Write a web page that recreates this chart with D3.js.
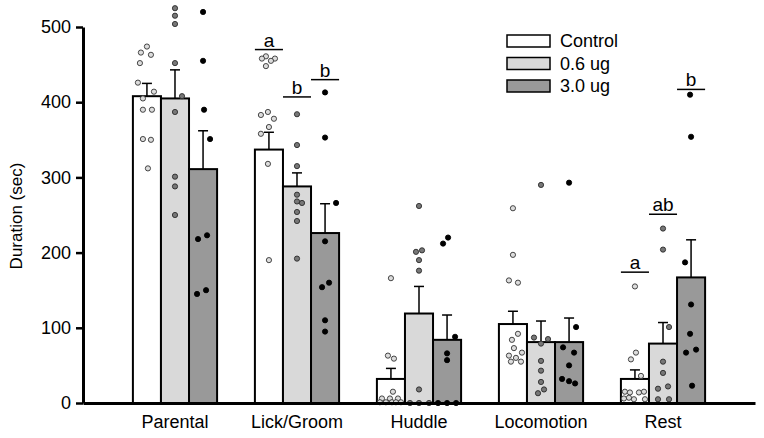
<!DOCTYPE html>
<html>
<head>
<meta charset="utf-8">
<script src="https://cdn.jsdelivr.net/npm/d3@7"></script>
<style>
  html, body { margin: 0; padding: 0; background: #fff; }
  svg { display: block; font-family: "Liberation Sans", Arial, sans-serif; }
</style>
</head>
<body>
<svg id="chart" width="764" height="438"></svg>
<script>
// ---------------- data ----------------
const categories = ["Parental", "Lick/Groom", "Huddle", "Locomotion", "Rest"];
const series = ["Control", "0.6 ug", "3.0 ug"];
const yTicks = [0, 100, 200, 300, 400, 500];

const meanControl = [408, 337, 32, 105, 32];
const mean06 = [405, 288, 119, 81, 79];
const mean30 = [311, 226, 84, 81, 167];

const semControl = [17, 23, 14, 17, 12];
const sem06 = [38, 18, 36, 28, 28];
const sem30 = [51, 39, 33, 32, 50];

// individual animals: [value, jitter]
const pointsControl = [
  [[474,0],[466,-6],[463,4],[452,-7],[426,-9],[414,7],[405,-4],[390,-4],[390,5],[351,-4],[350,4],[312,1]],
  [[461,-3],[458,-7],[458,6],[455,2],[448,-3],[387,-1],[383,-8],[378,5],[367,0],[358,-8],[318,-1],[190,0]],
  [[166,0],[63,-3],[59,3],[15,2],[6,-9],[6,-1],[6,7],[1,-11],[1,-5],[1,1],[1,5],[1,10]],
  [[259,0],[197,0],[163,-4],[160,5],[92,5],[84,-1],[73,1],[67,9],[63,-4],[60,3],[55,-2],[55,8]],
  [[155,0],[67,1],[58,-4],[36,6],[15,-10],[14,-5],[14,4],[15,9],[6,-11],[7,-6],[5,-1],[5,10]]
];
const points06 = [
  [[525,0],[515,0],[504,0],[452,0],[408,7],[387,0],[301,0],[288,0],[250,0]],
  [[384,0],[343,0],[315,0],[277,0],[268,0],[266,5],[254,0],[242,0],[192,0]],
  [[262,0],[201,-3],[203,3],[190,0],[176,0],[18,0],[0,-9],[0,0],[0,10]],
  [[290,0],[87,-7],[85,7],[79,0],[56,0],[43,0],[28,0],[18,3],[13,-3]],
  [[232,0],[204,0],[101,6],[55,0],[40,0],[19,-5],[22,5],[5,-5],[5,6]]
];
const points30 = [
  [[520,0],[455,0],[390,1],[351,7],[218,-5],[223,4],[145,-6],[150,3]],
  [[413,0],[353,0],[266,11],[215,0],[160,4],[154,-3],[110,0],[95,0]],
  [[220,1],[212,-4],[88,8],[66,0],[57,0],[0,-9],[0,0],[0,9]],
  [[293,0],[101,7],[74,-6],[67,5],[50,0],[32,-7],[29,0],[26,6]],
  [[410,-1],[354,0],[187,-6],[131,0],[92,-1],[67,-5],[71,5],[23,1]]
];

// significance letters
const sigCategory = ["Lick/Groom", "Lick/Groom", "Lick/Groom", "Rest", "Rest", "Rest"];
const sigSeries = ["Control", "0.6 ug", "3.0 ug", "Control", "0.6 ug", "3.0 ug"];
const sigHeight = [470, 407, 430, 174, 251, 417];
const sigText = ["a", "b", "b", "a", "ab", "b"];

// ---------------- styles ----------------
const barFill = { "Control": "#ffffff", "0.6 ug": "#d9d9d9", "3.0 ug": "#999999" };
const dotFill = { "Control": "#dcdcdc", "0.6 ug": "#777777", "3.0 ug": "#000000" };
const dotStroke = { "Control": "#333333", "0.6 ug": "#2a2a2a", "3.0 ug": "#000000" };

const means = { "Control": meanControl, "0.6 ug": mean06, "3.0 ug": mean30 };
const sems = { "Control": semControl, "0.6 ug": sem06, "3.0 ug": sem30 };
const pts = { "Control": pointsControl, "0.6 ug": points06, "3.0 ug": points30 };

const svg = d3.select("#chart");

const x0 = d3.scaleBand().domain(categories).range([83, 755])
  .paddingInner(0.31).paddingOuter(0.409);
const x1 = d3.scaleBand().domain(series).range([0, x0.bandwidth()]).padding(0);
const y = d3.scaleLinear().domain([0, 500]).range([403, 27]);
const jit = x1.bandwidth() / 28;

const barData = [];
categories.forEach((c, i) => series.forEach(s => {
  barData.push({ c, s, v: means[s][i], e: sems[s][i], p: pts[s][i] });
}));

const g = svg.append("g");

// bars
g.selectAll("rect.bar").data(barData).join("rect")
  .attr("class", "bar")
  .attr("x", d => x0(d.c) + x1(d.s))
  .attr("y", d => y(d.v))
  .attr("width", x1.bandwidth())
  .attr("height", d => y(0) - y(d.v))
  .attr("fill", d => barFill[d.s])
  .attr("stroke", "#000")
  .attr("stroke-width", 2);

// error bars (upper only)
const eb = g.selectAll("g.eb").data(barData).join("g").attr("class", "eb");
eb.append("line")
  .attr("x1", d => x0(d.c) + x1(d.s) + x1.bandwidth() / 2)
  .attr("x2", d => x0(d.c) + x1(d.s) + x1.bandwidth() / 2)
  .attr("y1", d => y(d.v))
  .attr("y2", d => y(d.v + d.e))
  .attr("stroke", "#000").attr("stroke-width", 1.5);
eb.append("line")
  .attr("x1", d => x0(d.c) + x1(d.s) + x1.bandwidth() / 2 - 5)
  .attr("x2", d => x0(d.c) + x1(d.s) + x1.bandwidth() / 2 + 5)
  .attr("y1", d => y(d.v + d.e))
  .attr("y2", d => y(d.v + d.e))
  .attr("stroke", "#000").attr("stroke-width", 1.5);

// points
const dotData = [];
barData.forEach(d => d.p.forEach(p => dotData.push({ c: d.c, s: d.s, v: p[0], j: p[1] })));
g.selectAll("circle.dot").data(dotData).join("circle")
  .attr("class", "dot")
  .attr("cx", d => x0(d.c) + x1(d.s) + x1.bandwidth() / 2 + d.j * jit)
  .attr("cy", d => y(d.v))
  .attr("r", 2.6)
  .attr("fill", d => dotFill[d.s])
  .attr("stroke", d => dotStroke[d.s])
  .attr("stroke-width", 0.9);

// significance lines and letters
const sig = sigText.map((t, i) => ({ c: sigCategory[i], s: sigSeries[i], h: sigHeight[i], t }));
g.selectAll("line.sig").data(sig).join("line")
  .attr("class", "sig")
  .attr("x1", d => x0(d.c) + x1(d.s))
  .attr("x2", d => x0(d.c) + x1(d.s) + x1.bandwidth())
  .attr("y1", d => y(d.h)).attr("y2", d => y(d.h))
  .attr("stroke", "#000").attr("stroke-width", 1.5);
g.selectAll("text.sig").data(sig).join("text")
  .attr("class", "sig")
  .attr("x", d => x0(d.c) + x1(d.s) + x1.bandwidth() / 2)
  .attr("y", d => y(d.h) - 3)
  .attr("text-anchor", "middle")
  .attr("font-size", 19)
  .text(d => d.t);

// axes
const yAxis = svg.append("g").attr("transform", "translate(83,0)")
  .call(d3.axisLeft(y).tickValues(yTicks).tickSizeInner(7).tickSizeOuter(0).tickPadding(5));
yAxis.select(".domain").attr("stroke-width", 3);
yAxis.selectAll(".tick line").attr("stroke-width", 2.5);
yAxis.selectAll(".tick text").attr("font-size", 18).attr("fill", "#000")
  .style("font-family", "'Liberation Sans', Arial, sans-serif");

const xAxis = svg.append("g").attr("transform", "translate(0,403)")
  .call(d3.axisBottom(x0).tickSize(0).tickSizeOuter(0).tickPadding(12));
xAxis.select(".domain").attr("stroke-width", 3);
xAxis.selectAll(".tick text").attr("font-size", 18).attr("fill", "#000")
  .style("font-family", "'Liberation Sans', Arial, sans-serif");

svg.append("text")
  .attr("transform", "translate(22,216) rotate(-90)")
  .attr("text-anchor", "middle")
  .attr("font-size", 17)
  .text("Duration (sec)");

// legend
const leg = svg.append("g").selectAll("g").data(series).join("g")
  .attr("transform", (d, i) => `translate(507,${35 + i * 22.5})`);
leg.append("rect").attr("width", 43).attr("height", 12)
  .attr("fill", d => barFill[d]).attr("stroke", "#000").attr("stroke-width", 1.5);
leg.append("text").attr("x", 53).attr("y", 6).attr("dy", "0.35em")
  .attr("font-size", 18).text(d => d);
</script>
</body>
</html>
